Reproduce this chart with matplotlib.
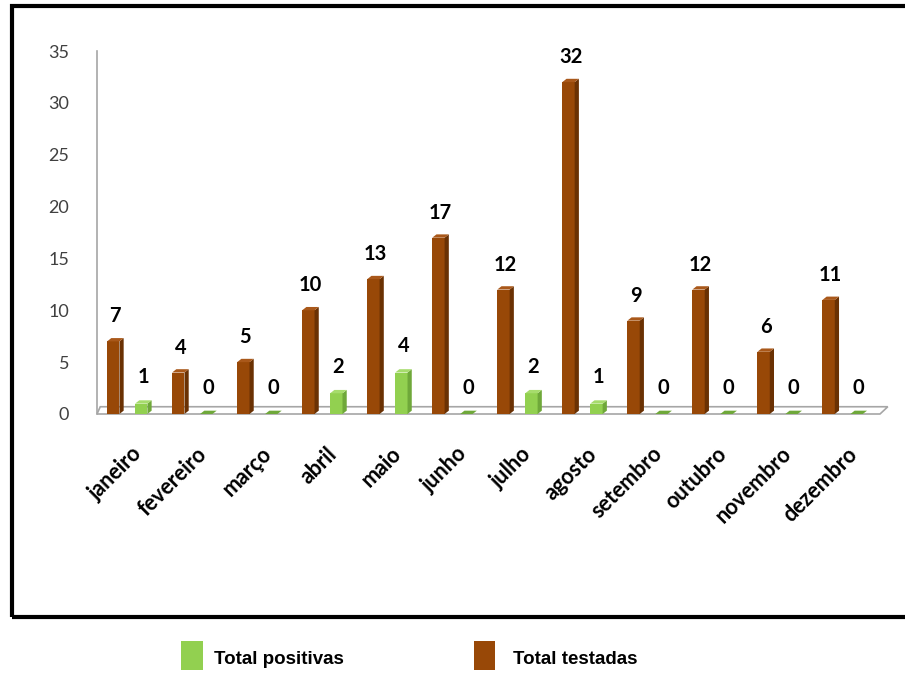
import matplotlib
matplotlib.use("Agg")
import matplotlib.pyplot as plt
from matplotlib.patches import Polygon, Rectangle
import matplotlib.transforms as mtransforms
import numpy as np

months = ["janeiro", "fevereiro", "março", "abril", "maio", "junho",
          "julho", "agosto", "setembro", "outubro", "novembro", "dezembro"]
testadas = [7, 4, 5, 10, 13, 17, 12, 32, 9, 12, 6, 11]
positivas = [1, 0, 0, 2, 4, 0, 2, 1, 0, 0, 0, 0]
yticks = [0, 5, 10, 15, 20, 25, 30, 35]

brown = "#984807"
brown_side = "#6a3103"
brown_top = "#a9581a"
green = "#92d050"
green_side = "#6fa83a"
green_top = "#a6dc6c"

fig = plt.figure(figsize=(9.05, 6.77), dpi=100)
ax = fig.add_axes([97 / 905, 263 / 677, (880 - 97) / 905, (414 - 51) / 677])

x = np.arange(len(months))
w = 0.19
dx, dy = 0.065, 0.32   # pseudo-3D depth in data units

# floor
ax.add_patch(Polygon([(-0.46, 0), (11.58, 0), (11.58 + 0.12, 0.7), (-0.46 + 0.05, 0.7)],
                     closed=True, facecolor="white", edgecolor="#a6a6a6", lw=1.2,
                     clip_on=False, zorder=1))

def bars3d(pos, vals, front, side, top):
    rects = ax.bar(pos, vals, width=w, color=front, zorder=3, linewidth=0)
    for r in rects:
        x0 = r.get_x()
        x1 = x0 + r.get_width()
        h = r.get_height()
        ax.add_patch(Polygon([(x1, 0), (x1 + dx, dy), (x1 + dx, h + dy), (x1, h)],
                             closed=True, facecolor=side, lw=0, zorder=3, clip_on=False))
        ax.add_patch(Polygon([(x0, h), (x0 + dx, h + dy), (x1 + dx, h + dy), (x1, h)],
                             closed=True, facecolor=top if h > 0 else side, lw=0,
                             zorder=3, clip_on=False))
    return rects

bars3d(x - 0.21, testadas, brown, brown_side, brown_top)
bars3d(x + 0.22, positivas, green, green_side, green_top)

lab_font = dict(fontsize=14.5, fontweight="bold", family="Lato", color="black")
for xi, v in zip(x - 0.21 + dx / 2, testadas):
    ax.annotate(str(v), (xi, v), xytext=(0, 18), textcoords="offset points",
                ha="center", va="center", **lab_font)
for xi, v in zip(x + 0.22 + dx / 2, positivas):
    ax.annotate(str(v), (xi, v), xytext=(0, 19), textcoords="offset points",
                ha="center", va="center", **lab_font)

ax.set_xlim(-0.46, 11.58)
ax.set_ylim(0, 35)
ax.set_yticks(yticks)
ax.tick_params(axis="y", length=0, pad=20, labelsize=13, labelcolor="#404040")
for t in ax.get_yticklabels():
    t.set_family("Lato")

ax.set_xticks(x)
ax.set_xticklabels(months, rotation=45, ha="right", rotation_mode="anchor",
                   fontsize=15.5, fontweight="bold", family="Lato")
ax.tick_params(axis="x", length=0, pad=21)
off = mtransforms.ScaledTranslation(4 / 100, 0, fig.dpi_scale_trans)
for t in ax.get_xticklabels():
    t.set_transform(t.get_transform() + off)

for s in ["top", "right", "bottom"]:
    ax.spines[s].set_visible(False)
ax.spines["left"].set_color("#a6a6a6")
ax.spines["left"].set_linewidth(1.2)
ax.patch.set_alpha(0)

# outer frame
fig.add_artist(Rectangle((12 / 905, 1 - 617 / 677), 1.2, (617 - 6) / 677,
                         transform=fig.transFigure, fill=False, edgecolor="black",
                         lw=3, clip_on=False))

# legend
fig.add_artist(Rectangle((181 / 905, 1 - 670 / 677), 22 / 905, 29 / 677,
                         transform=fig.transFigure, facecolor=green, lw=0))
fig.text(214 / 905, 1 - 660 / 677, "Total positivas", fontsize=13.5,
         fontweight="bold", family="Liberation Sans", va="center")
fig.add_artist(Rectangle((474 / 905, 1 - 670 / 677), 21 / 905, 29 / 677,
                         transform=fig.transFigure, facecolor=brown, lw=0))
fig.text(513 / 905, 1 - 660 / 677, "Total testadas", fontsize=13.5,
         fontweight="bold", family="Liberation Sans", va="center")

fig.savefig("out.png", dpi=100)
